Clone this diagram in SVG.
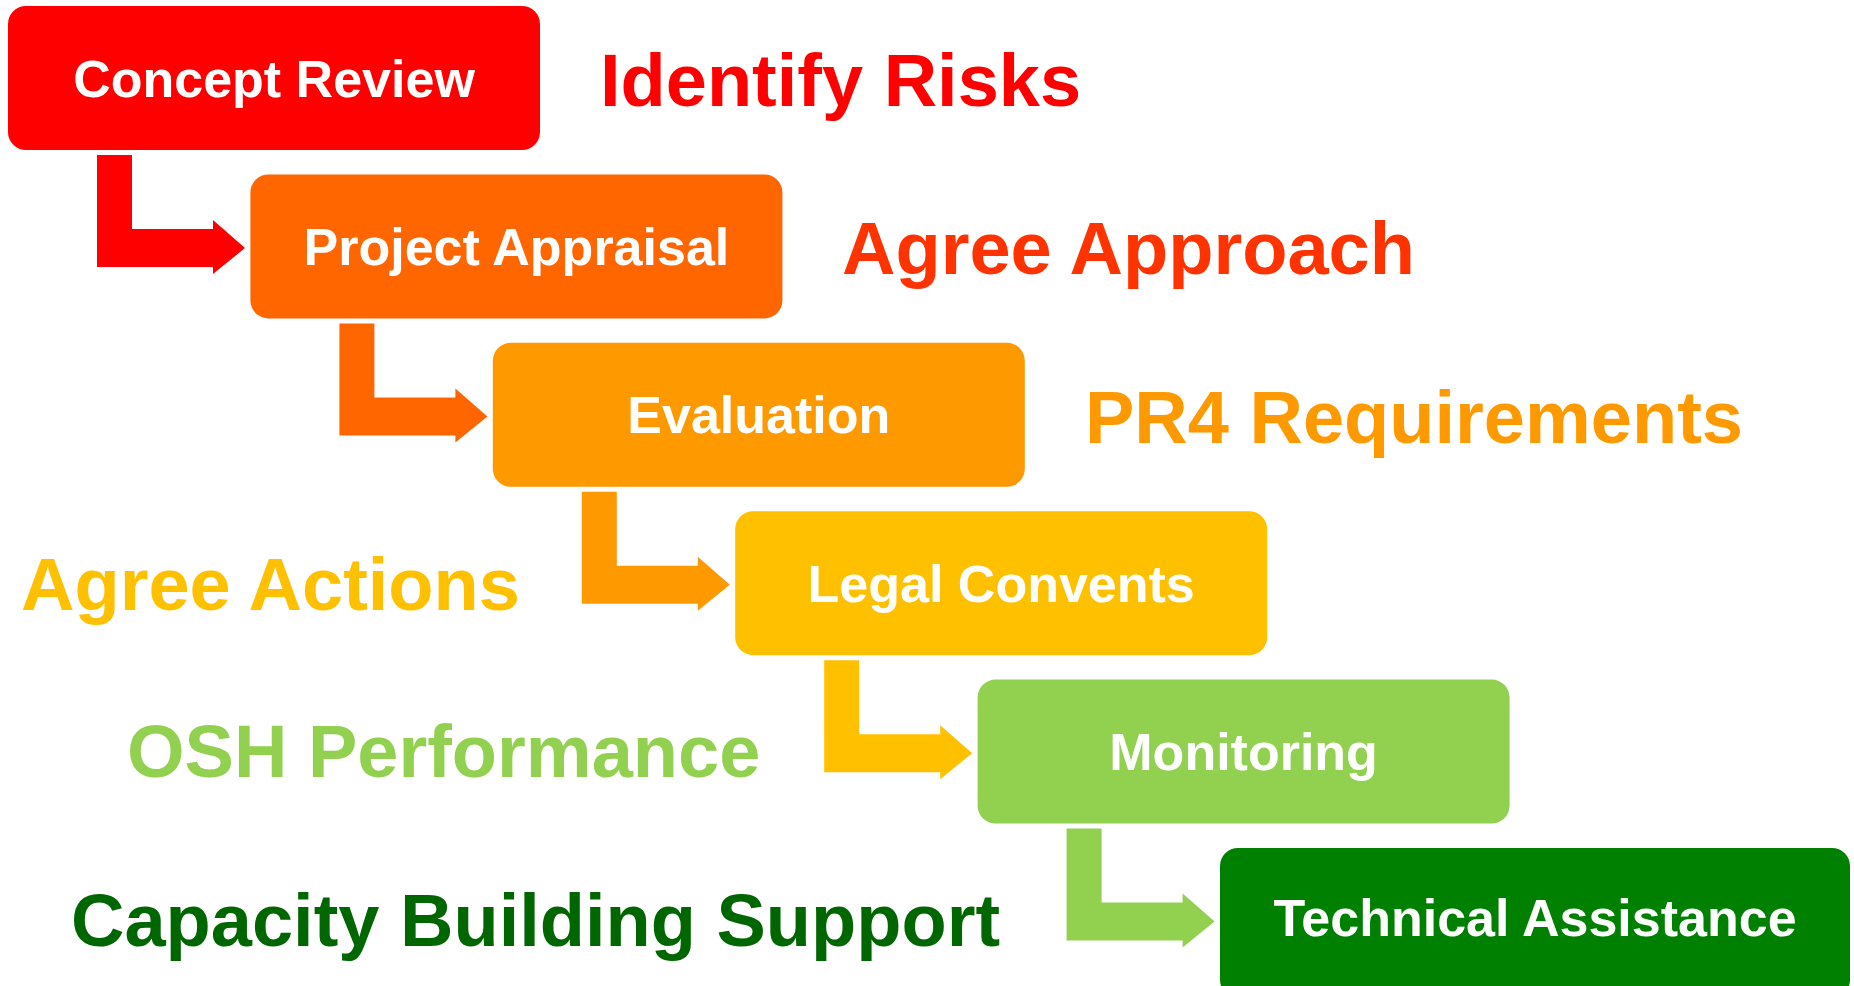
<svg xmlns="http://www.w3.org/2000/svg" width="1854" height="986" viewBox="0 0 1854 986">
<style>
.box-label{font-family:"Liberation Sans",Arial,sans-serif;font-weight:bold;font-size:52px;fill:#FFFFFF;text-anchor:middle}
.side{font-family:"Liberation Sans",Arial,sans-serif;font-weight:bold;font-size:74px}
</style>
<defs>
<path id="arr" d="M97,155 H132 V229 H213 V220 L245,248 L213,274 V267 H97 Z"/>
</defs>
<rect width="1854" height="986" fill="#FFFFFF"/>
<g id="connectors">
<use href="#arr" fill="#FF0000"/>
<use href="#arr" fill="#FF6600" transform="translate(242.4,168.4)"/>
<use href="#arr" fill="#FF9900" transform="translate(484.8,336.8)"/>
<use href="#arr" fill="#FFC000" transform="translate(727.2,505.2)"/>
<use href="#arr" fill="#92D050" transform="translate(969.6,673.6)"/>
</g>
<g id="concept-review">
<rect x="8" y="6" width="532" height="144" rx="18" fill="#FF0000"/>
<text class="box-label" x="274" y="97">Concept Review</text>
</g>
<g id="project-appraisal">
<rect x="250.4" y="174.4" width="532" height="144" rx="18" fill="#FF6600"/>
<text class="box-label" x="516.4" y="265">Project Appraisal</text>
</g>
<g id="evaluation">
<rect x="492.8" y="342.8" width="532" height="144" rx="18" fill="#FF9900"/>
<text class="box-label" x="758.8" y="433">Evaluation</text>
</g>
<g id="legal-convents">
<rect x="735.2" y="511.2" width="532" height="144" rx="18" fill="#FFC000"/>
<text class="box-label" x="1001.2" y="602">Legal Convents</text>
</g>
<g id="monitoring">
<rect x="977.6" y="679.6" width="532" height="144" rx="18" fill="#92D050"/>
<text class="box-label" x="1243.6" y="770">Monitoring</text>
</g>
<g id="technical-assistance">
<rect x="1220" y="848" width="630" height="150" rx="18" fill="#008000"/>
<text class="box-label" x="1535" y="936">Technical Assistance</text>
</g>
<g id="side-labels">
<text class="side" x="600" y="106" fill="#FF0000">Identify Risks</text>
<text class="side" x="842" y="274" fill="#FF3300">Agree Approach</text>
<text class="side" x="1085" y="443" fill="#FF9900">PR4 Requirements</text>
<text class="side" x="21" y="610" fill="#FFC000">Agree Actions</text>
<text class="side" x="127" y="777" fill="#92D050">OSH Performance</text>
<text class="side" x="71" y="946" fill="#006600">Capacity Building Support</text>
</g>
</svg>
